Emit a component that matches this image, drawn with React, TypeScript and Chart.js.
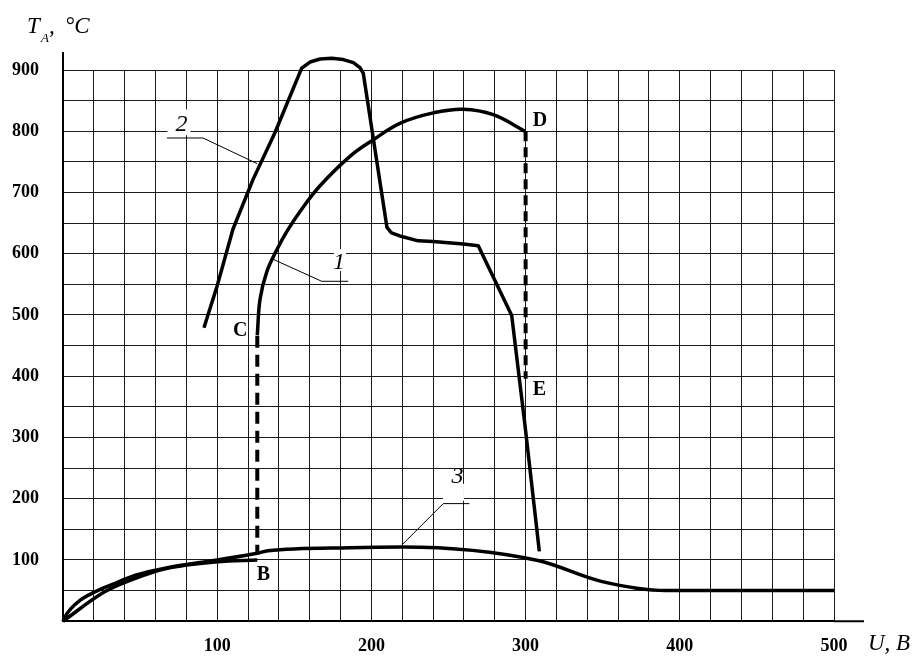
import React, { useEffect, useRef } from 'react';
import { Chart, registerables } from 'chart.js';

Chart.register(...registerables);

// ---------- data ----------
const xTickLabels = ['100', '200', '300', '400', '500'];
const yTickLabels = ['100', '200', '300', '400', '500', '600', '700', '800', '900'];

type P = { x: number; y: number };

// curve 1 : C -> D
const curve1: P[] = [
  { x: 126, y: 467 }, { x: 127.8, y: 526 }, { x: 132.1, y: 570 }, { x: 138.6, y: 606 },
  { x: 145.1, y: 636 }, { x: 154.3, y: 671 }, { x: 166.7, y: 711 }, { x: 186.1, y: 759 },
  { x: 201.2, y: 786 }, { x: 218.5, y: 813 }, { x: 240.1, y: 830 }, { x: 259.6, y: 836 },
  { x: 279, y: 827 }, { x: 299.6, y: 800 },
];

// curve 2
const curve2: P[] = [
  { x: 91.4, y: 479 }, { x: 99.9, y: 547 }, { x: 110.2, y: 640 }, { x: 123.2, y: 721 },
  { x: 137.5, y: 798 }, { x: 154.8, y: 903 }, { x: 160.2, y: 913 }, { x: 166.7, y: 918 },
  { x: 174.3, y: 919 }, { x: 181.8, y: 917 }, { x: 188.3, y: 912 }, { x: 192.6, y: 904 },
  { x: 194.7, y: 895 }, { x: 210.1, y: 643 }, { x: 213, y: 634 }, { x: 218.5, y: 629 },
  { x: 230.4, y: 621 }, { x: 240, y: 620 }, { x: 259.6, y: 616 }, { x: 269.3, y: 613 },
  { x: 291, y: 499 }, { x: 299.6, y: 320 }, { x: 308.9, y: 114 },
];

// curve 3
const curve3: P[] = [
  { x: 0, y: 0 }, { x: 1.5, y: 8 }, { x: 5, y: 20 }, { x: 11, y: 34 }, { x: 20, y: 47 },
  { x: 32, y: 60 }, { x: 47, y: 75 }, { x: 67, y: 87 }, { x: 100, y: 100 }, { x: 126, y: 111 },
  { x: 133, y: 115 }, { x: 186, y: 120 }, { x: 220, y: 121 }, { x: 308, y: 99 },
  { x: 349, y: 65 }, { x: 391, y: 50 }, { x: 500, y: 50 },
];

// branch from origin to B
const branchAB: P[] = [
  { x: 0, y: 0 }, { x: 27, y: 48 }, { x: 47, y: 70 }, { x: 67, y: 86 }, { x: 100, y: 97 }, { x: 126, y: 100 },
];

// dashed jumps
const dashCB: P[] = [{ x: 126, y: 466 }, { x: 126, y: 109 }];
const dashDE: P[] = [{ x: 300, y: 800 }, { x: 300, y: 396 }];

// leader lines for curve numbers
const leader1: P[] = [{ x: 136.2, y: 591 }, { x: 167.8, y: 555 }, { x: 185, y: 555 }];
const leader2: P[] = [{ x: 67.4, y: 789 }, { x: 90.8, y: 789 }, { x: 126, y: 747 }];
const leader3: P[] = [{ x: 263.5, y: 192 }, { x: 246.6, y: 192 }, { x: 219.6, y: 124 }];

// text annotations (data coordinates)
const pointLabels = [
  { text: 'C', x: 110.2, y: 466 },
  { text: 'B', x: 125.6, y: 67 },
  { text: 'D', x: 304.6, y: 808 },
  { text: 'E', x: 304.6, y: 369 },
];
const curveNumbers = [
  { text: '2', x: 76.8, y: 800, box: [-14, -22, 9, 4] },
  { text: '1', x: 179, y: 575, box: [-5, -20, 7, 2] },
  { text: '3', x: 255.8, y: 226, box: [-14.5, 1, 6.5, 18] },
];

const SERIF = '"Liberation Serif", "Times New Roman", serif';

const annotPlugin = {
  id: 'annot',
  beforeDatasetsDraw(chart: any) {
    const { ctx, scales } = chart;
    const xs = scales.x, ys = scales.y;
    ctx.save();
    ctx.fillStyle = '#fff';
    for (const a of curveNumbers) {
      const cx = xs.getPixelForValue(a.x);
      const by = ys.getPixelForValue(a.y);
      ctx.fillRect(cx + a.box[0], by + a.box[1], a.box[2] - a.box[0], a.box[3] - a.box[1]);
    }
    ctx.restore();
  },
  afterDraw(chart: any) {
    const { ctx, chartArea: ca, scales } = chart;
    const xs = scales.x, ys = scales.y;
    ctx.save();
    // axis extensions
    ctx.strokeStyle = '#000';
    ctx.lineWidth = 2;
    ctx.beginPath();
    ctx.moveTo(ca.left, ca.top);
    ctx.lineTo(ca.left, ca.top - 18);
    ctx.moveTo(ca.right, ca.bottom);
    ctx.lineTo(ca.right + 30, ca.bottom);
    ctx.stroke();

    ctx.fillStyle = '#000';
    ctx.textBaseline = 'alphabetic';
    // point labels
    ctx.font = `bold 20px ${SERIF}`;
    ctx.textAlign = 'left';
    for (const p of pointLabels) {
      ctx.fillText(p.text, xs.getPixelForValue(p.x), ys.getPixelForValue(p.y));
    }
    // curve numbers
    ctx.font = `italic 24px ${SERIF}`;
    ctx.textAlign = 'center';
    for (const c of curveNumbers) {
      ctx.fillText(c.text, xs.getPixelForValue(c.x), ys.getPixelForValue(c.y));
    }
    // axis titles
    ctx.textAlign = 'left';
    ctx.font = `italic 23px ${SERIF}`;
    ctx.fillText('U, B', ca.right + 34, ca.bottom + 29);
    const tx = ca.left - 36;
    const ty = ca.top - 37;
    ctx.fillText('T', tx, ty);
    ctx.font = `italic 13px ${SERIF}`;
    ctx.fillText('A', tx + 14, ty + 8.5);
    ctx.font = `italic 23px ${SERIF}`;
    ctx.fillText(',', tx + 22, ty);
    ctx.fillText('°C', tx + 38, ty);
    ctx.restore();
  },
};

const lineDs = (data: P[], extra: any = {}) => ({
  data,
  showLine: true,
  borderColor: '#000',
  backgroundColor: '#000',
  borderWidth: 3.5,
  pointRadius: 0,
  fill: false,
  clip: false,
  borderJoinStyle: 'round',
  ...extra,
});

export default function App() {
  const ref = useRef<HTMLCanvasElement | null>(null);
  useEffect(() => {
    if (!ref.current) return;
    const tickFont = { family: SERIF, size: 18, weight: 'bold' as const };
    const chart = new Chart(ref.current, {
      type: 'scatter',
      data: {
        datasets: [
          lineDs(curve1, { tension: 0.4 }),
          lineDs(curve2, { tension: 0 }),
          lineDs(curve3, { cubicInterpolationMode: 'monotone' }),
          lineDs(branchAB, { cubicInterpolationMode: 'monotone' }),
          lineDs(dashCB, { borderDash: [12, 7], borderWidth: 4 }),
          lineDs(dashDE, { borderDash: [10, 6], borderWidth: 4 }),
          lineDs(leader1, { borderWidth: 1 }),
          lineDs(leader2, { borderWidth: 1 }),
          lineDs(leader3, { borderWidth: 1 }),
        ] as any,
      },
      options: {
        responsive: false,
        animation: false,
        events: [],
        layout: { padding: { top: 70, right: 81, left: 0, bottom: 0 } },
        plugins: { legend: { display: false }, tooltip: { enabled: false } },
        scales: {
          x: {
            type: 'linear',
            min: 0,
            max: 500,
            border: { display: true, color: '#000', width: 2 },
            grid: { color: '#1a1a1a', lineWidth: 1, drawTicks: false },
            ticks: {
              stepSize: 20,
              autoSkip: false,
              maxRotation: 0,
              padding: 14,
              color: '#000',
              font: tickFont,
              callback: (v: any) => (xTickLabels.includes(String(v)) ? String(v) : ''),
            },
            afterFit: (s: any) => { s.height = 32; },
          },
          y: {
            type: 'linear',
            min: 0,
            max: 900,
            border: { display: true, color: '#000', width: 2 },
            grid: { color: '#1a1a1a', lineWidth: 1, drawTicks: false },
            ticks: {
              stepSize: 50,
              autoSkip: false,
              padding: 24,
              color: '#000',
              font: tickFont,
              callback: (v: any) => (yTickLabels.includes(String(v)) ? String(v) : ''),
            },
            afterFit: (s: any) => { s.width = 63; },
          },
        },
      } as any,
      plugins: [annotPlugin],
    });
    return () => chart.destroy();
  }, []);
  return (
    <div style={{ position: 'fixed', left: 0, top: 0, width: 915, height: 656, background: '#fff' }}>
      <canvas ref={ref} width={915} height={656} style={{ display: 'block' }} />
    </div>
  );
}
